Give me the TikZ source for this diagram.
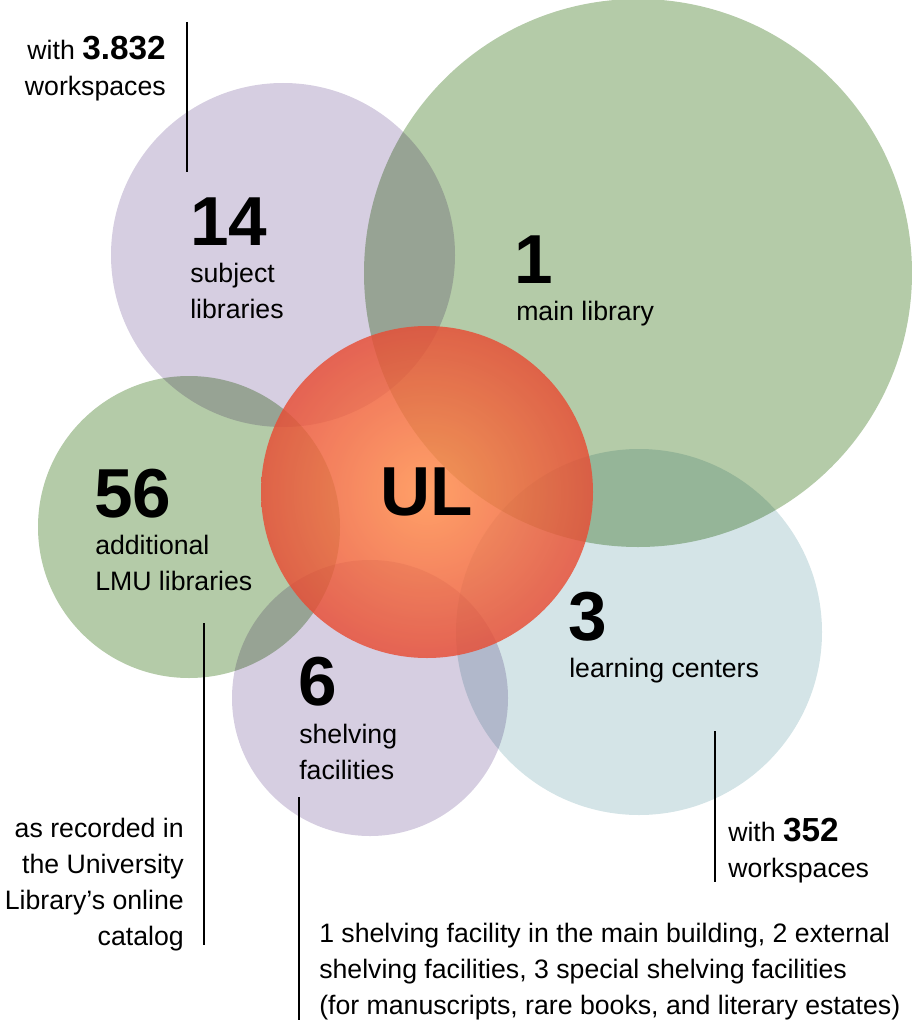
\documentclass[tikz,border=0pt]{standalone}
\usepackage{fontspec}
\setmainfont{Liberation Sans}
\begin{document}
\begin{tikzpicture}[x=0.75pt,y=-0.75pt,
  lbl/.style={font=\fontsize{20}{27}\selectfont,inner sep=0pt},
  big/.style={font=\fontsize{52}{52}\selectfont\bfseries,inner sep=0pt},
  lead/.style={line width=0.8pt,black}]
\useasboundingbox (0,0) rectangle (912,1024);
\definecolor{gr}{HTML}{B4CBA8}
\definecolor{pu}{HTML}{D6CEE1}
\definecolor{bl}{HTML}{D4E4E7}
\begin{scope}[blend group=multiply]
\fill[gr] (638,273) circle (274);
\fill[pu] (283,255) circle (172);
\fill[gr] (189,527) circle (151);
\fill[bl] (639,632) circle (183);
\fill[pu] (370,698) circle (138);
\end{scope}
\shade[inner color={rgb,255:red,255;green,140;blue,70},outer color={rgb,255:red,232;green,76;blue,52},opacity=0.82] (427,492) circle (166);
% leader lines
\coordinate (l1a) at (187,22); \coordinate (l1b) at (187,172);
\coordinate (l2a) at (204,623); \coordinate (l2b) at (204,945);
\coordinate (l3a) at (299,797); \coordinate (l3b) at (299,1020);
\coordinate (l4a) at (715,731); \coordinate (l4b) at (715,882);
\draw[lead] (l1a)--(l1b); \draw[lead] (l2a)--(l2b);
\draw[lead] (l3a)--(l3b); \draw[lead] (l4a)--(l4b);
% texts
\node[lbl,anchor=base east,align=right] (t1) at (166,95) {with {\fontsize{25}{27}\selectfont\bfseries 3.832}\\workspaces};
\node[big,anchor=base west] (n14) at (190,245) {14};
\node[lbl,anchor=base west,align=left] (s14) at (190,318) {subject\\libraries};
\node[big,anchor=base west] (n1) at (514,283) {1};
\node[lbl,anchor=base west] (s1) at (516,320) {main library};
\node[big,anchor=base west] (n56) at (94,517) {56};
\node[lbl,anchor=base west,align=left] (s56) at (95,590) {additional\\LMU libraries};
\node[big,anchor=base] (ul) at (427,515) {UL};
\node[big,anchor=base west] (n3) at (568,640) {3};
\node[lbl,anchor=base west] (s3) at (569,677) {learning centers};
\node[big,anchor=base west] (n6) at (298,705) {6};
\node[lbl,anchor=base west,align=left] (s6) at (299,779) {shelving\\facilities};
\node[lbl,anchor=base west,align=left] (t4) at (728,877) {with {\fontsize{25}{27}\selectfont\bfseries 352}\\workspaces};
\node[lbl,anchor=base east,align=right] (t2) at (184,945) {as recorded in\\the University\\Library’s online\\catalog};
\node[lbl,anchor=base west,align=left] (t3) at (319,1014) {1 shelving facility in the main building, 2 external\\shelving facilities, 3 special shelving facilities\\(for manuscripts, rare books, and literary estates)};
\end{tikzpicture}
\end{document}
